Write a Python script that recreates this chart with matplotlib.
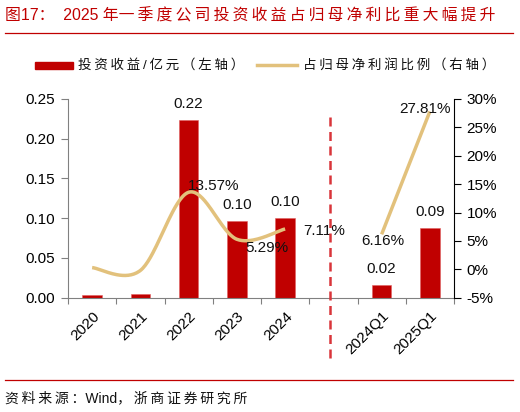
import numpy as np
import matplotlib
matplotlib.use("Agg")
import matplotlib.pyplot as plt
from matplotlib.lines import Line2D
from matplotlib.patches import Rectangle
from matplotlib.ticker import FuncFormatter, FixedLocator

plt.rcParams['font.family'] = ['Liberation Sans', 'Noto Sans CJK SC', 'DejaVu Sans']

# ---- data ----
categories = ["2020", "2021", "2022", "2023", "2024", "", "2024Q1", "2025Q1"]
invest_income = [0.003, 0.005, 0.223, 0.097, 0.100, None, 0.016, 0.088]
bar_labels = [None, None, "0.22", "0.10", "0.10", None, "0.02", "0.09"]
annual_ratio = [0.3, -0.2, 13.57, 5.29, 7.11]          # % , 2020-2024
quarter_ratio = [6.16, 27.81]                            # % , 2024Q1, 2025Q1
ratio_labels_annual = [None, None, "13.57%", "5.29%", "7.11%"]
ratio_labels_quarter = ["6.16%", "27.81%"]

BAR = "#C00000"
LINE = "#E2C17C"
W, H = 520, 412

def spaced(s, sp="\u2009"):
    return sp.join(list(s))

def catmull(xs, ys, n=40):
    xs = np.asarray(xs, float); ys = np.asarray(ys, float)
    px, py = [], []
    for i in range(len(xs) - 1):
        p0 = np.array([xs[i], ys[i]]); p1 = np.array([xs[i + 1], ys[i + 1]])
        pm = np.array([xs[i - 1], ys[i - 1]]) if i > 0 else p0
        pp = np.array([xs[i + 2], ys[i + 2]]) if i + 2 < len(xs) else p1
        c1 = p0 + (p1 - pm) / 6.0
        c2 = p1 - (pp - p0) / 6.0
        t = np.linspace(0, 1, n)[:, None]
        b = (1 - t) ** 3 * p0 + 3 * (1 - t) ** 2 * t * c1 + 3 * (1 - t) * t ** 2 * c2 + t ** 3 * p1
        px.extend(b[:, 0]); py.extend(b[:, 1])
    return np.array(px), np.array(py)

fig = plt.figure(figsize=(W / 100, H / 100), dpi=100)
ax = fig.add_axes([68 / W, 1 - 297.7 / H, (454 - 68) / W, (297.7 - 99) / H])
ax2 = ax.twinx()

x = np.arange(len(categories))
for i, v in enumerate(invest_income):
    if v is None:
        continue
    ax.bar(x[i], v, width=0.4, color=BAR, edgecolor="#E06060", linewidth=0.4, zorder=2)
    if bar_labels[i]:
        ax.annotate(bar_labels[i], (x[i], v), xytext=(0, 16), textcoords="offset pixels",
                    ha="center", va="center", fontsize=11, color="#111111")

ax.set_xlim(-0.5, len(categories) - 0.5)
ax.set_ylim(0, 0.25)
ax.set_yticks([0, 0.05, 0.10, 0.15, 0.20, 0.25])
ax.yaxis.set_major_formatter(FuncFormatter(lambda v, p: f"{v:.2f}"))
ax.set_xticks(np.arange(-0.5, len(categories), 1.0))
ax.set_xticklabels([])
ax.xaxis.set_minor_locator(FixedLocator(x))
ax.set_xticklabels(categories, minor=True, rotation=45, ha="right", va="top",
                   rotation_mode="anchor", fontsize=11)
ax.tick_params(axis="x", which="minor", length=0, pad=8)
ax.tick_params(axis="x", which="major", length=4, direction="out", color="#808080")
ax.tick_params(axis="y", length=5, direction="out", color="#808080", labelsize=11, pad=4)
for s in ["top", "right"]:
    ax.spines[s].set_visible(False)
ax.spines["left"].set_color("#808080")
ax.spines["bottom"].set_color("#808080")

# ratio line
xa = x[:5]
sx, sy = catmull(xa, annual_ratio)
ax2.plot(sx, sy, color=LINE, lw=2.5, solid_capstyle="butt", zorder=3)
ax2.plot(x[6:8], quarter_ratio, color=LINE, lw=2.5, solid_capstyle="butt", zorder=3)
ax2.set_ylim(-5, 30)
ax2.set_yticks(np.arange(-5, 31, 5))
ax2.yaxis.set_major_formatter(FuncFormatter(lambda v, p: f"{v:.0f}%"))
ax2.tick_params(axis="y", length=5, direction="out", color="black", labelsize=11, pad=4)
for s in ["top", "left", "bottom"]:
    ax2.spines[s].set_visible(False)
ax2.spines["right"].set_color("black")

# ratio labels (offsets in pixels)
offs = {2: (25, 6), 3: (30, -9), 4: (39, -2)}
for i, lab in enumerate(ratio_labels_annual):
    if lab:
        ax2.annotate(lab, (xa[i], annual_ratio[i]), xytext=offs[i], textcoords="offset pixels",
                     ha="center", va="center", fontsize=11, color="#111111", zorder=5)
qoffs = [(1, -7), (-5, 2)]
for j, lab in enumerate(ratio_labels_quarter):
    ax2.annotate(lab, (x[6 + j], quarter_ratio[j]), xytext=qoffs[j], textcoords="offset pixels",
                 ha="center", va="center", fontsize=11, color="#111111", zorder=5)

# dashed separator
fig.add_artist(Line2D([330 / W, 330 / W], [1 - 117 / H, 1 - 358 / H], color="#D9353A",
                      lw=1.8, ls=(0, (3.6, 2.2))))

# title and rules
fig.text(5 / W, 1 - 16 / H, "图17：  2025 年" + spaced("一季度公司投资收益占归母净利比重大幅提升"),
         color=BAR, fontsize=11.4, ha="left", va="center")
fig.add_artist(Line2D([5 / W, 513 / W], [1 - 32.5 / H, 1 - 32.5 / H], color=BAR, lw=0.9))
fig.add_artist(Line2D([5 / W, 513 / W], [1 - 380 / H, 1 - 380 / H], color=BAR, lw=0.9))
fig.text(5 / W, 1 - 398 / H, spaced("资料来源：") + "Wind" + spaced("，浙商证券研究所"),
         color="#111111", fontsize=10, ha="left", va="center")

# legend
ly = 1 - 65 / H
fig.add_artist(Rectangle((35 / W, ly - 3.5 / H), 38 / W, 7 / H, color=BAR, transform=fig.transFigure))
fig.text(78 / W, ly, spaced("投资收益/亿元（左轴）"), fontsize=9.7, ha="left", va="center", color="#111111")
fig.add_artist(Line2D([257 / W, 297 / W], [ly, ly], color=LINE, lw=2.5))
fig.text(303 / W, ly, spaced("占归母净利润比例（右轴）"), fontsize=9.7, ha="left", va="center", color="#111111")

fig.savefig("out.png", dpi=100)
